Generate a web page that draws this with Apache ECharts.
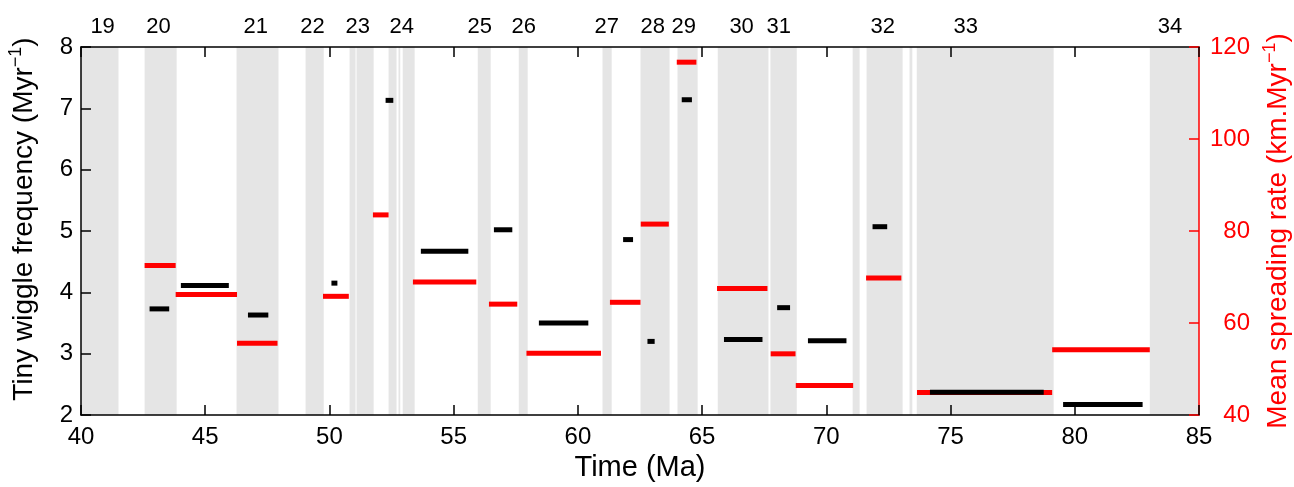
<!DOCTYPE html>
<html>
<head>
<meta charset="utf-8">
<script src="https://cdn.jsdelivr.net/npm/echarts@6/dist/echarts.min.js"></script>
<style>
html,body{margin:0;padding:0;background:#fff;}
#chart{width:1294px;height:487px;}
</style>
</head>
<body>
<div id="chart"></div>
<script>
// Normal-polarity chron bands [start Ma, end Ma]
const chronBands = [
  [40.00, 41.51], [42.56, 43.85], [46.26, 47.95], [49.04, 49.77],
  [50.81, 51.05], [51.09, 51.78], [52.38, 52.70], [52.78, 52.85],
  [52.95, 53.43], [55.97, 56.49], [57.62, 57.98], [60.99, 61.36],
  [62.52, 63.69], [64.01, 64.82], [65.63, 67.67], [67.75, 68.81],
  [71.06, 71.34], [71.62, 73.07], [73.35, 73.46], [73.64, 79.15],
  [83.02, 85.00]
];
// Chron labels and their ages
const chronNames = ['19','20','21','22','23','24','25','26','27','28','29','30','31','32','33','34'];
const chronLabelAges = [40.87, 43.12, 47.03, 49.32, 51.14, 52.91, 56.05, 57.82, 61.16, 63.01, 64.26, 66.59, 68.08, 72.27, 75.61, 83.83];

// Tiny wiggle frequency segments: [start Ma, end Ma, frequency Myr^-1]
const wiggleFreq = [
  [42.76, 43.55, 3.73], [44.02, 45.95, 4.11], [46.72, 47.54, 3.63],
  [50.08, 50.32, 4.15], [52.26, 52.57, 7.13], [53.68, 55.59, 4.67],
  [56.62, 57.36, 5.02], [58.43, 60.42, 3.50], [61.82, 62.22, 4.86],
  [62.80, 63.09, 3.20], [64.18, 64.59, 7.14], [65.88, 67.43, 3.23],
  [68.02, 68.54, 3.75], [69.26, 70.81, 3.21], [71.86, 72.45, 5.07],
  [74.17, 78.75, 2.37], [79.53, 82.73, 2.17]
];
// Mean spreading rate segments: [start Ma, end Ma, rate km/Myr]
const spreadRate = [
  [42.56, 43.81, 72.5], [43.81, 46.28, 66.2], [46.28, 47.91, 55.6],
  [49.74, 50.78, 65.8], [51.75, 52.38, 83.5], [53.36, 55.91, 68.9],
  [56.42, 57.56, 64.1], [57.93, 60.93, 53.4], [61.29, 62.52, 64.5],
  [62.53, 63.66, 81.5], [63.98, 64.77, 116.7], [65.60, 67.63, 67.5],
  [67.76, 68.76, 53.3], [68.77, 71.08, 46.4], [71.60, 73.02, 69.8],
  [73.65, 79.09, 44.9], [79.09, 83.02, 54.2]
];

const FONT = "'Liberation Sans', Arial, sans-serif";
const chart = echarts.init(document.getElementById('chart'), null, {renderer: 'canvas'});

function segRender(color) {
  return function (params, api) {
    const p0 = api.coord([api.value(0), api.value(2)]);
    const p1 = api.coord([api.value(1), api.value(2)]);
    return {
      type: 'rect',
      shape: {x: p0[0], y: p0[1] - 2.5, width: p1[0] - p0[0], height: 5},
      style: {fill: color}
    };
  };
}

const supRich = function (color) {
  return {
    sup: {fontSize: 18, color: color, verticalAlign: 'top', lineHeight: 34, fontFamily: FONT, padding: [0, 0, 10, 0]}
  };
};

const option = {
  animation: false,
  backgroundColor: '#fff',
  textStyle: {fontFamily: FONT},
  grid: {left: 81, right: 95, top: 47, bottom: 72, containLabel: false, outerBoundsMode: 'none'},
  xAxis: [{
    type: 'value', position: 'bottom', min: 40, max: 85, interval: 5,
    name: 'Time (Ma)', nameLocation: 'middle', nameGap: 38,
    nameTextStyle: {fontSize: 29, color: '#000', fontFamily: FONT},
    axisLine: {show: true, lineStyle: {color: '#000', width: 1.5}},
    axisTick: {show: true, inside: true, length: 10, lineStyle: {color: '#000', width: 1.5}},
    axisLabel: {fontSize: 24, color: '#000', margin: 10, fontFamily: FONT},
    splitLine: {show: false}
  }, {
    type: 'value', position: 'top', min: 40, max: 85, interval: 5,
    axisLine: {show: true, lineStyle: {color: '#000', width: 1.5}},
    axisTick: {show: true, inside: true, length: 10, lineStyle: {color: '#000', width: 1.5}},
    axisLabel: {show: false},
    splitLine: {show: false}
  }],
  yAxis: [{
    type: 'value', position: 'left', min: 2, max: 8, interval: 1,
    name: 'Tiny wiggle frequency (Myr{sup|\u22121})', nameLocation: 'middle', nameGap: 40,
    nameTextStyle: {fontSize: 28, color: '#000', fontFamily: FONT, rich: supRich('#000'), padding: [0, 0, 0, 24]},
    axisLine: {show: true, lineStyle: {color: '#000', width: 1.5}},
    axisTick: {show: true, inside: true, length: 10, lineStyle: {color: '#000', width: 1.5}},
    axisLabel: {fontSize: 24, color: '#000', margin: 8, fontFamily: FONT},
    splitLine: {show: false}
  }, {
    type: 'value', position: 'right', min: 40, max: 120, interval: 20,
    name: 'Mean spreading rate (km.Myr{sup|\u22121})', nameLocation: 'middle', nameGap: 58,
    nameRotate: 90,
    nameTextStyle: {fontSize: 28, color: '#ff0000', fontFamily: FONT, rich: supRich('#ff0000')},
    axisLine: {show: true, lineStyle: {color: '#ff0000', width: 1.5}},
    axisTick: {show: true, inside: true, length: 10, lineStyle: {color: '#ff0000', width: 1.5}},
    axisLabel: {fontSize: 24, color: '#ff0000', margin: 51, align: 'right', fontFamily: FONT},
    splitLine: {show: false}
  }],
  series: [{
    type: 'custom', name: 'bands', xAxisIndex: 0, yAxisIndex: 0, z: -1,
    silent: true,
    data: chronBands,
    renderItem: function (params, api) {
      const p0 = api.coord([api.value(0), 8]);
      const p1 = api.coord([api.value(1), 2]);
      return {type: 'rect', shape: {x: p0[0], y: p0[1], width: p1[0] - p0[0], height: p1[1] - p0[1]},
              style: {fill: '#e5e5e5'}};
    }
  }, {
    type: 'custom', name: 'chrons', xAxisIndex: 0, yAxisIndex: 0, clip: false,
    data: chronLabelAges.map((a, i) => [a, chronNames[i]]),
    renderItem: function (params, api) {
      const p = api.coord([api.value(0), 8]);
      return {type: 'text', x: p[0], y: p[1] - 20,
              style: {text: chronNames[params.dataIndex], fill: '#000', fontSize: 22, fontFamily: FONT,
                      align: 'center', verticalAlign: 'middle'}};
    }
  }, {
    type: 'custom', name: 'rate', xAxisIndex: 0, yAxisIndex: 1, z: 3,
    data: spreadRate,
    renderItem: segRender('#ff0000')
  }, {
    type: 'custom', name: 'wiggle', xAxisIndex: 0, yAxisIndex: 0, z: 4,
    data: wiggleFreq,
    renderItem: segRender('#000000')
  }]
};
chart.setOption(option);
</script>
</body>
</html>
